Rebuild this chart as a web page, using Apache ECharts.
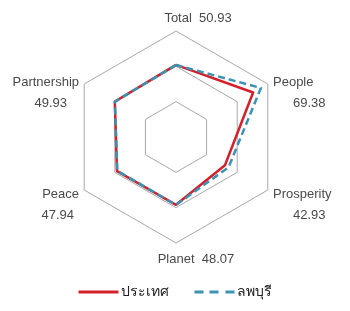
<!DOCTYPE html>
<html><head><meta charset="utf-8">
<script src="https://cdn.jsdelivr.net/npm/echarts@6/dist/echarts.min.js"></script>
<style>html,body{margin:0;padding:0;background:#fff}#c{width:350px;height:311px}</style>
</head><body><div id="c"></div>
<script>
// indicator order follows ECharts counter-clockwise placement starting at top
var categories = ['Total', 'Partnership', 'Peace', 'Planet', 'Prosperity', 'People'];
var labelValues = ['50.93', '49.93', '47.94', '48.07', '42.93', '69.38'];
var seriesNames = ['ประเทศ', 'ลพบุรี'];
var countryValues = [51.0, 50.0, 48.2, 48.0, 40.0, 63.0];
var lopburiValues = [50.93, 49.93, 47.94, 48.07, 42.93, 69.38];
var axisMax = 75;

var chart = echarts.init(document.getElementById('c'));
var font = '"Liberation Sans", "DejaVu Sans", sans-serif';
var fs = 13;
var col = '#4a4a4a';
chart.setOption({
  animation: false,
  backgroundColor: '#ffffff',
  legend: {
    bottom: 7, left: 'center',
    itemWidth: 40, itemHeight: 3, itemGap: 26,
    textStyle: {fontFamily: font, fontSize: 14, color: '#222', padding: [0, 0, 0, -3]},
    data: [
      {name: seriesNames[0], icon: 'path://M0,0h40v3h-40z'},
      {name: seriesNames[1], icon: 'path://M0,0h9v3h-9z M15,0h9v3h-9z M31,0h9v3h-9z'}
    ]
  },
  radar: {
    center: [176, 137], radius: 106, startAngle: 90,
    splitNumber: 3, shape: 'polygon',
    axisLine: {show: false},
    splitArea: {show: false},
    splitLine: {lineStyle: {color: '#a8a8a8', width: 1}},
    nameGap: 6,
    axisName: {
      color: col, fontFamily: font, fontSize: fs,
      formatter: function (name) {
        var i = categories.indexOf(name);
        var v = labelValues[i];
        if (i === 0) return '{c|' + name + '  ' + v + '}';
        if (i === 3) return '{d|' + name + '  ' + v + '}';
        if (i === 4 || i === 5) return '{s|}\n{a|' + name + '}\n{r|' + v + '}';
        if (i === 1) return '{s|}\n{a|' + name + '}\n{l|' + v + '}';
        return '{s|}\n{a|' + name + '}\n{k|' + v + '}';
      },
      rich: {
        c: {fontFamily: font, fontSize: fs, color: col, padding: [0, 0, 0, 44]},
        d: {fontFamily: font, fontSize: fs, color: col, padding: [4, 0, 0, 40]},
        s: {fontSize: fs, height: 24, lineHeight: 24},
        a: {fontFamily: font, fontSize: fs, color: col, height: 21, lineHeight: 21},
        r: {fontFamily: font, fontSize: fs, color: col, padding: [0, 0, 0, 20], height: 21, lineHeight: 21},
        l: {fontFamily: font, fontSize: fs, color: col, padding: [0, 12, 0, 0], height: 21, lineHeight: 21},
        k: {fontFamily: font, fontSize: fs, color: col, padding: [0, 5, 0, 0], height: 21, lineHeight: 21}
      }
    },
    indicator: categories.map(function (c) { return {name: c, min: 0, max: axisMax}; })
  },
  series: [{
    type: 'radar', symbol: 'none',
    data: [
      {name: seriesNames[0], value: countryValues,
       lineStyle: {color: '#d3202a', width: 2.5, type: 'solid'}, itemStyle: {color: '#d3202a'}},
      {name: seriesNames[1], value: lopburiValues,
       lineStyle: {color: '#3a93b4', width: 2.5, type: [7, 4]}, itemStyle: {color: '#3a93b4'}}
    ]
  }]
});
</script></body></html>
